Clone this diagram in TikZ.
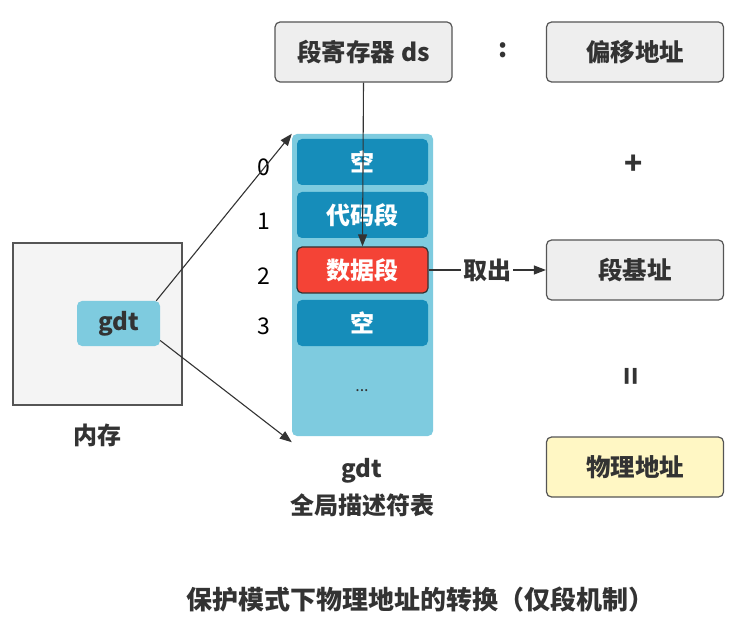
\documentclass[tikz,border=0pt]{standalone}
\usepackage{fontspec}
\setmainfont{Noto Sans CJK SC}
\usetikzlibrary{arrows.meta}
\definecolor{boxgray}{HTML}{EEEEEE}
\definecolor{edgegray}{HTML}{555555}
\definecolor{lightblue}{HTML}{7ECBDF}
\definecolor{deepblue}{HTML}{168DBA}
\definecolor{segred}{HTML}{F44336}
\definecolor{paleyellow}{HTML}{FFF7C4}
\definecolor{memgray}{HTML}{F4F4F4}
\definecolor{inkgray}{HTML}{333333}
\tikzset{
  regbox/.style={draw=edgegray, line width=1.2pt, fill=boxgray, rounded corners=5pt,
    minimum width=177pt, minimum height=60pt, inner sep=0pt,
    font=\fontsize{24.5}{28}\selectfont\bfseries, text=inkgray},
  entry/.style={fill=deepblue, rounded corners=5pt, minimum width=131pt, minimum height=46pt,
    inner sep=0pt, font=\fontsize{24}{28}\selectfont\bfseries, text=white},
  idx/.style={font=\fontsize{23}{26}\selectfont, text=black},
  lbl/.style={font=\fontsize{24}{28}\selectfont\bfseries, text=inkgray},
  conn/.style={draw=inkgray, line width=1.1pt, -{Triangle[length=12pt,width=9pt]}},
}
\begin{document}
\begin{tikzpicture}[x=1pt,y=-1pt]
\useasboundingbox (0,0) rectangle (747,644);

% right-hand address column
\node[regbox] (ds) at (363.5,52) {段寄存器 ds};
\node[font=\fontsize{26}{28}\selectfont\bfseries, text=inkgray] (colon) at (503,50) {:};
\node[regbox] (offset) at (635,52) {偏移地址};
\node[font=\fontsize{30}{32}\selectfont\bfseries, text=inkgray] (plus) at (634,165) {+};
\node[regbox] (base) at (635,270) {段基址};
\node[font=\fontsize{30}{32}\selectfont\bfseries, text=inkgray, rotate=90] (equals) at (634,376) {=};
\node[regbox, fill=paleyellow] (phys) at (635,467) {物理地址};

% global descriptor table
\node[fill=lightblue, rounded corners=5pt, minimum width=141pt, minimum height=302pt, inner sep=0pt] (gdt) at (362.5,285) {};
\node[entry] (e0) at (362.5,162) {空};
\node[entry] (e1) at (362.5,215) {代码段};
\node[entry, fill=segred, draw=inkgray, line width=1.2pt] (e2) at (362.5,270) {数据段};
\node[entry] (e3) at (362.5,323) {空};
\node[font=\fontsize{16}{18}\selectfont, text=inkgray] (dots) at (362,391) {...};

\node[idx] (i0) at (264,167) {0};
\node[idx] (i1) at (264,221) {1};
\node[idx] (i2) at (264,276) {2};
\node[idx] (i3) at (264,326) {3};

\node[lbl] (gdtname) at (362,471) {gdt};
\node[lbl] (gdtdesc) at (362,505) {全局描述符表};

% memory
\node[draw=edgegray, line width=1.2pt, fill=memgray, minimum width=169pt, minimum height=162pt, inner sep=0pt] (mem) at (97.5,324) {};
\node[fill=lightblue, rounded corners=5pt, minimum width=83pt, minimum height=45pt, inner sep=0pt,
  font=\fontsize{24}{28}\selectfont\bfseries, text=inkgray] (gdtref) at (118.5,323.5) {gdt};
\node[lbl] (memname) at (97,435) {内存};

% connectors
\draw[conn] (gdtref.north east) ++(-4,0) coordinate (ga) (ga) -- (gdt.north west);
\draw[conn] (gdtref.east) ++(0,17) coordinate (gb) (gb) -- ([yshift=-6pt]gdt.south west);
\draw[conn] (ds.south) -- (e2.north);
\draw[conn] (e2.east) -- node[fill=white, inner sep=2pt, lbl] (take) {取出} (base.west);

% caption
\node[font=\fontsize{26}{30}\selectfont\bfseries, text=inkgray] (title) at (420,600) {保护模式下物理地址的转换（仅段机制）};
\end{tikzpicture}
\end{document}
